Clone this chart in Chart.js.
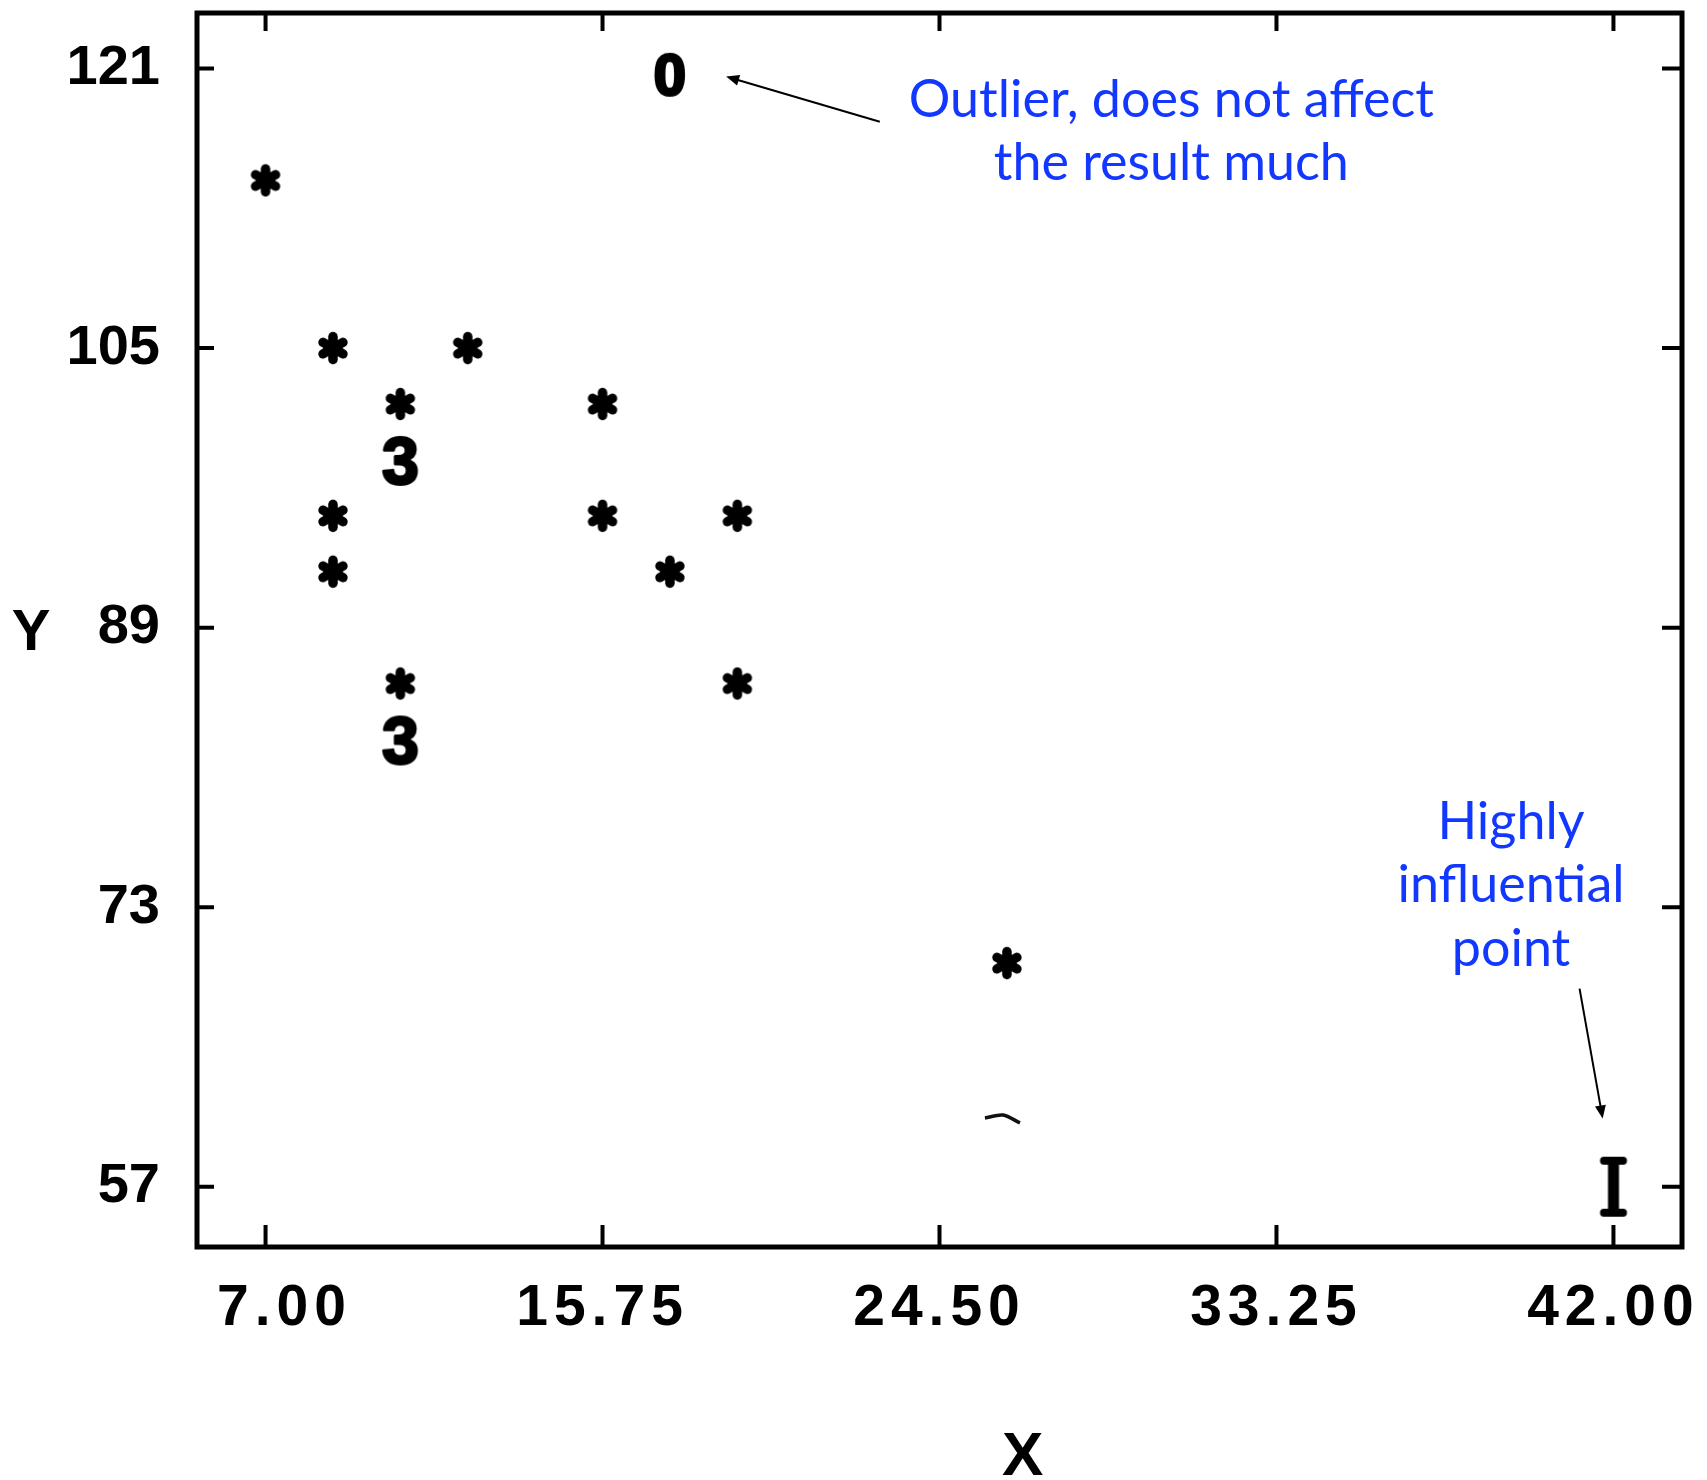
<!DOCTYPE html>
<html>
<head>
<meta charset="utf-8">
<title>Y against X: outlier and influential point</title>
<script src="https://cdn.jsdelivr.net/npm/chart.js@4.4.1/dist/chart.umd.min.js"></script>
<style>
  html, body { margin: 0; padding: 0; background: #fff; }
  #wrap { width: 1707px; height: 1480px; position: relative; }
</style>
</head>
<body>
<div id="wrap"><canvas id="plot"></canvas></div>
<script>
// axes
const xTicks = [7, 15.75, 24.5, 33.25, 42];
const xTickLabels = ['\u20077.00', '15.75', '24.50', '33.25', '42.00'];
const yTicks = [57, 73, 89, 105, 121];
const xRange = [5.22, 43.78];
const yRange = [53.55, 124.18];

// single points, printed as '*'
const starX = [7, 8.75, 12.25, 10.5, 15.75, 8.75, 15.75, 19.25, 8.75, 17.5, 10.5, 19.25, 26.25];
const starY = [114.6, 105, 105, 101.8, 101.8, 95.4, 95.4, 95.4, 92.2, 92.2, 85.8, 85.8, 69.8];
// three points in one print cell, printed as '3'
const tripleX = [10.5, 10.5];
const tripleY = [98.6, 82.6];
// outlier (printed '0') and influential point (printed 'I')
const outlierX = [17.5];
const outlierY = [120.7];
const influentialX = [42];
const influentialY = [57];
// little stray mark on the print
const strayX = [25.68, 26.15, 26.59];
const strayY = [60.93, 61.10, 60.65];

// blue notes, anchored in data units
const notes = [
  { lines: ['Outlier, does not affect', 'the result much'], x: 30.52, y: [118.25, 114.62] },
  { lines: ['Highly', 'influential', 'point'], x: 39.34, y: [76.90, 73.30, 69.66] }
];
const arrows = [
  { from: [22.95, 117.96], to: [18.96, 120.54] },
  { from: [41.12, 68.34], to: [41.72, 60.91] }
];

const TICK_FONT = '"Liberation Sans", sans-serif';
const NOTE_BLUE = '#1238ff';

function toPoints(xs, ys) {
  return xs.map((x, i) => ({ x: x, y: ys[i] }));
}

// marker glyphs as small canvases
function starGlyph() {
  const c = document.createElement('canvas');
  c.width = 36; c.height = 36;
  const g = c.getContext('2d');
  g.translate(18, 18);
  g.strokeStyle = g.fillStyle = '#000';
  g.lineWidth = 9.5;
  g.lineCap = 'round';
  [90, 30, 150].forEach(a => {
    const r = a * Math.PI / 180;
    g.beginPath();
    g.moveTo(-11.5 * Math.cos(r), -11.5 * Math.sin(r));
    g.lineTo(11.5 * Math.cos(r), 11.5 * Math.sin(r));
    g.stroke();
  });
  g.beginPath();
  g.arc(0, 0, 9.5, 0, Math.PI * 2);
  g.fill();
  return c;
}

function textGlyph(ch, size, w, h) {
  const c = document.createElement('canvas');
  c.width = w; c.height = h;
  const g = c.getContext('2d');
  g.font = 'bold ' + size + 'px "Liberation Sans", sans-serif';
  g.textAlign = 'center';
  g.textBaseline = 'alphabetic';
  g.fillStyle = g.strokeStyle = '#000';
  g.lineWidth = 3;
  g.lineJoin = 'round';
  const base = h / 2 + size * 0.716 / 2;
  g.fillText(ch, w / 2, base);
  g.strokeText(ch, w / 2, base);
  return c;
}

function barGlyph() {
  const c = document.createElement('canvas');
  c.width = 32; c.height = 64;
  const g = c.getContext('2d');
  g.fillStyle = g.strokeStyle = '#000';
  g.fillRect(10.5, 6, 11, 52);
  g.lineWidth = 8;
  g.lineCap = 'round';
  g.beginPath();
  g.moveTo(6.5, 6); g.lineTo(25.5, 6);
  g.moveTo(6.5, 58); g.lineTo(25.5, 58);
  g.stroke();
  return c;
}

// x tick labels of the printout are widely spaced
const spacedTicksPlugin = {
  id: 'spacedTicks',
  beforeDraw(chart) {
    const s = chart.scales.x;
    if (!s || s._spaced) return;
    const drawLabels = s.drawLabels.bind(s);
    s.drawLabels = function (area) {
      const prev = chart.ctx.letterSpacing;
      chart.ctx.letterSpacing = '6px';
      drawLabels(area);
      chart.ctx.letterSpacing = prev || '0px';
    };
    s._spaced = true;
  }
};

// frame and inward tick marks
const framePlugin = {
  id: 'frame',
  afterDatasetsDraw(chart) {
    const { ctx, chartArea: a, scales: { x, y } } = chart;
    ctx.save();
    ctx.strokeStyle = '#000';
    ctx.lineWidth = 4;
    ctx.beginPath();
    xTicks.forEach(v => {
      const px = x.getPixelForValue(v);
      ctx.moveTo(px, a.bottom); ctx.lineTo(px, a.bottom - 22);
      ctx.moveTo(px, a.top); ctx.lineTo(px, a.top + 18);
    });
    yTicks.forEach(v => {
      const py = y.getPixelForValue(v);
      ctx.moveTo(a.left, py); ctx.lineTo(a.left + 17, py);
      ctx.moveTo(a.right, py); ctx.lineTo(a.right - 20, py);
    });
    ctx.stroke();
    ctx.lineWidth = 5;
    ctx.strokeRect(a.left, a.top, a.right - a.left, a.bottom - a.top);

    // axis names
    ctx.fillStyle = '#000';
    ctx.textAlign = 'center';
    ctx.textBaseline = 'alphabetic';
    ctx.font = 'bold 62px "Liberation Sans", sans-serif';
    ctx.fillText('X', a.left + 0.556 * (a.right - a.left), a.bottom + 228);
    ctx.font = 'bold 58px "Liberation Sans", sans-serif';
    ctx.fillText('Y', 31, (a.top + a.bottom) / 2 + 20);
    ctx.restore();
  }
};

// blue notes with arrows
const notesPlugin = {
  id: 'notes',
  afterDraw(chart) {
    const { ctx, scales: { x, y } } = chart;
    ctx.save();
    ctx.fillStyle = NOTE_BLUE;
    ctx.font = '52px Lato, "Open Sans", sans-serif';
    ctx.textAlign = 'center';
    ctx.textBaseline = 'alphabetic';
    notes.forEach(n => {
      n.lines.forEach((t, i) => ctx.fillText(t, x.getPixelForValue(n.x), y.getPixelForValue(n.y[i])));
    });
    ctx.strokeStyle = ctx.fillStyle = '#000';
    ctx.lineWidth = 2;
    arrows.forEach(ar => {
      const x0 = x.getPixelForValue(ar.from[0]), y0 = y.getPixelForValue(ar.from[1]);
      const x1 = x.getPixelForValue(ar.to[0]), y1 = y.getPixelForValue(ar.to[1]);
      const ang = Math.atan2(y1 - y0, x1 - x0);
      const hl = 13, hw = 5.5;
      ctx.beginPath();
      ctx.moveTo(x0, y0);
      ctx.lineTo(x1 - hl * 0.8 * Math.cos(ang), y1 - hl * 0.8 * Math.sin(ang));
      ctx.stroke();
      ctx.beginPath();
      ctx.moveTo(x1, y1);
      ctx.lineTo(x1 - hl * Math.cos(ang) + hw * Math.sin(ang), y1 - hl * Math.sin(ang) - hw * Math.cos(ang));
      ctx.lineTo(x1 - hl * Math.cos(ang) - hw * Math.sin(ang), y1 - hl * Math.sin(ang) + hw * Math.cos(ang));
      ctx.closePath();
      ctx.fill();
    });
    ctx.restore();
  }
};

document.addEventListener('DOMContentLoaded', function () {
  const ctx = document.getElementById('plot');
  new Chart(ctx.getContext('2d'), {
    type: 'scatter',
    data: {
      datasets: [
        { label: 'stray mark', data: toPoints(strayX, strayY), showLine: true, pointRadius: 0,
          borderColor: '#111', borderWidth: 3.5, tension: 0.3 },
        { label: 'single points', data: toPoints(starX, starY), pointStyle: starGlyph(), pointRadius: 10 },
        { label: 'three points', data: toPoints(tripleX, tripleY), pointStyle: textGlyph('3', 66, 56, 64), pointRadius: 10 },
        { label: 'outlier', data: toPoints(outlierX, outlierY), pointStyle: textGlyph('0', 58, 50, 60), pointRadius: 10 },
        { label: 'influential point', data: toPoints(influentialX, influentialY), pointStyle: barGlyph(), pointRadius: 10 }
      ]
    },
    options: {
      responsive: true,
      maintainAspectRatio: false,
      animation: false,
      events: [],
      layout: { padding: { left: 0, right: 25, top: 13, bottom: 0 } },
      plugins: {
        legend: { display: false },
        tooltip: { enabled: false }
      },
      scales: {
        x: {
          type: 'linear',
          min: xRange[0],
          max: xRange[1],
          afterBuildTicks: s => { s.ticks = xTicks.map(v => ({ value: v })); },
          afterFit: s => { s.height = 233; s.paddingLeft = 0; s.paddingRight = 0; },
          grid: { display: false, drawTicks: false },
          border: { display: false },
          ticks: {
            autoSkip: false, maxRotation: 0, padding: 28, color: '#000',
            font: { family: TICK_FONT, weight: 'bold', size: 57 },
            callback: v => xTickLabels[xTicks.indexOf(v)]
          }
        },
        y: {
          type: 'linear',
          min: yRange[0],
          max: yRange[1],
          afterBuildTicks: s => { s.ticks = yTicks.map(v => ({ value: v })); },
          afterFit: s => { s.width = 197; s.paddingTop = 0; s.paddingBottom = 0; },
          grid: { display: false, drawTicks: false },
          border: { display: false },
          ticks: {
            autoSkip: false, padding: 37, color: '#000',
            font: { family: TICK_FONT, weight: 'bold', size: 56 },
            callback: v => String(v)
          }
        }
      }
    },
    plugins: [spacedTicksPlugin, framePlugin, notesPlugin]
  });
});
</script>
</body>
</html>
